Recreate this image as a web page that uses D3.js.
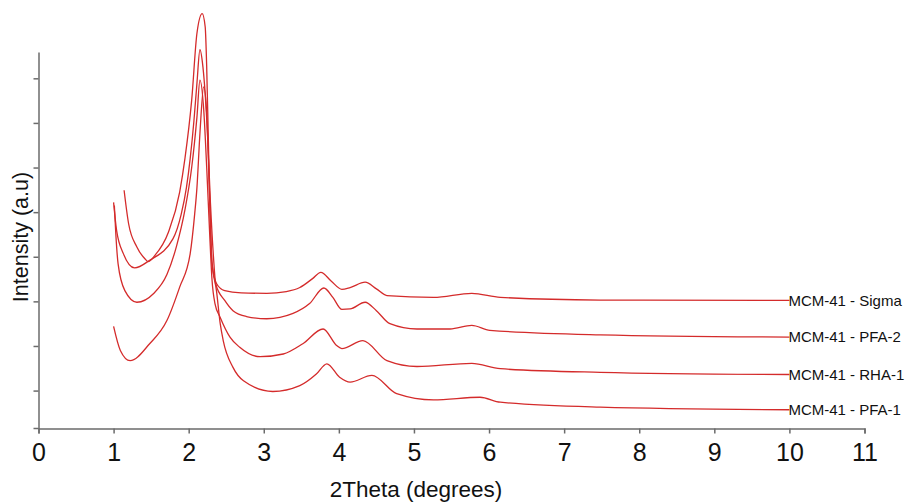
<!DOCTYPE html>
<html lang="en">
<head>
	<meta charset="utf-8">
	<title>XRD patterns MCM-41</title>
	<script src="https://d3js.org/d3.v7.min.js" charset="utf-8"></script>
	<style>
		body { margin: 0; background: #fff; }
		text { font-family: "Liberation Sans", Arial, sans-serif; }
	</style>
</head>
<body>
	<script>
        // Data: 2theta (degrees) and intensity (a.u)
        var seriesNames = ["MCM-41 - Sigma", "MCM-41 - PFA-2", "MCM-41 - RHA-1", "MCM-41 - PFA-1"];

        var sigma = [
            [1.14, 4.49], [1.20, 3.74], [1.31, 3.22], [1.42, 2.95], [1.46, 2.89], [1.55, 3.03],
            [1.73, 3.55], [1.88, 4.45], [1.95, 5.20], [2.04, 6.51], [2.11, 8.01],
            [2.18, 8.45], [2.22, 8.15], [2.24, 7.25], [2.26, 5.77], [2.28, 4.26], [2.31, 2.85],
            [2.37, 2.40], [2.48, 2.24], [2.70, 2.19], [3.04, 2.18], [3.30, 2.22], [3.48, 2.31],
            [3.65, 2.51], [3.76, 2.65], [3.90, 2.45], [4.04, 2.27], [4.15, 2.31], [4.35, 2.43],
            [4.50, 2.28], [4.64, 2.13], [5.26, 2.09], [5.77, 2.18], [6.15, 2.09], [7.48, 2.03],
            [10.0, 2.02]
        ];
        var pfa2 = [
            [1.00, 4.22], [1.04, 3.59], [1.13, 3.07], [1.28, 2.75], [1.48, 2.92], [1.79, 3.40],
            [1.90, 3.95], [1.97, 4.55], [2.02, 5.20], [2.07, 6.05], [2.11, 6.89], [2.15, 7.64], [2.19, 7.25],
            [2.25, 5.77], [2.29, 4.20], [2.33, 3.00], [2.36, 2.39], [2.48, 2.02], [2.59, 1.79],
            [2.77, 1.66], [3.04, 1.61], [3.39, 1.73], [3.61, 1.95], [3.80, 2.30], [3.92, 2.09],
            [4.04, 1.82], [4.15, 1.83], [4.35, 1.98], [4.50, 1.79], [4.68, 1.50], [5.04, 1.38],
            [5.48, 1.38], [5.77, 1.46], [6.01, 1.35], [7.48, 1.25], [10.0, 1.20]
        ];
        var rha1 = [
            [1.01, 4.15], [1.03, 3.50], [1.06, 2.84], [1.15, 2.24], [1.31, 1.98], [1.53, 2.17],
            [1.71, 2.60], [1.84, 3.25], [1.95, 4.05], [2.04, 5.00], [2.11, 6.13], [2.15, 6.96],
            [2.20, 6.30], [2.24, 5.00], [2.28, 3.50], [2.31, 2.50], [2.35, 1.95], [2.42, 1.64],
            [2.55, 1.20], [2.68, 0.97], [2.95, 0.76], [3.26, 0.82], [3.52, 1.05], [3.79, 1.38],
            [3.97, 1.01], [4.04, 0.94], [4.32, 1.12], [4.64, 0.67], [5.04, 0.54], [5.77, 0.61],
            [6.15, 0.49], [7.48, 0.41], [10.0, 0.36]
        ];
        var pfa1 = [
            [1.00, 1.44], [1.09, 0.90], [1.22, 0.67], [1.48, 1.05], [1.71, 1.57], [1.88, 2.32],
            [2.02, 3.07], [2.08, 3.96], [2.11, 4.55], [2.15, 5.77], [2.20, 6.81], [2.24, 6.21],
            [2.28, 4.26], [2.31, 2.90], [2.37, 2.24], [2.42, 1.50], [2.46, 1.12], [2.59, 0.52],
            [2.73, 0.22], [3.12, -0.02], [3.48, 0.11], [3.70, 0.37], [3.84, 0.60], [4.01, 0.30],
            [4.15, 0.19], [4.44, 0.34], [4.77, -0.07], [5.26, -0.21], [5.88, -0.15], [6.15, -0.26],
            [7.48, -0.37], [10.0, -0.43]
        ];

        var xTicks = [0, 1, 2, 3, 4, 5, 6, 7, 8, 9, 10, 11];
        var yTicks = [0, 1, 2, 3, 4, 5, 6, 7];

        var width = 906;
        var height = 502;

        var svg = d3.select("body")
            .append("svg")
            .attr("width", width)
            .attr("height", height);

        var x = d3.scaleLinear().domain([0, 11]).range([38.5, 864.5]);
        var y = d3.scaleLinear().domain([-0.85, 7.59]).range([428.5, 52]);

        var axisColor = "#6b6b6b";

        // x axis
        var gx = svg.append("g")
            .attr("transform", "translate(0," + y.range()[0] + ")")
            .call(d3.axisBottom(x).tickValues(xTicks).tickSize(5).tickSizeOuter(5).tickPadding(10));
        gx.selectAll("path, line").attr("stroke", axisColor).attr("stroke-width", 1.5);
        gx.selectAll("text")
            .attr("fill", "#111")
            .style("font-size", "25px");

        // y axis, unlabeled ticks
        var gy = svg.append("g")
            .attr("transform", "translate(" + x(0) + ",0)")
            .call(d3.axisLeft(y).tickValues(yTicks).tickSize(5).tickSizeOuter(0).tickFormat(""));
        gy.selectAll("path, line").attr("stroke", axisColor).attr("stroke-width", 1.5);
        // small stub where the two axes meet
        gy.append("line")
            .attr("x1", -5).attr("x2", 0)
            .attr("y1", y.range()[0]).attr("y2", y.range()[0])
            .attr("stroke", axisColor).attr("stroke-width", 1.5);

        // axis titles
        svg.append("text")
            .attr("x", 416)
            .attr("y", 497)
            .attr("text-anchor", "middle")
            .style("font-size", "22.5px")
            .attr("fill", "#111")
            .text("2Theta (degrees)");

        svg.append("text")
            .attr("transform", "translate(28,237) rotate(-90)")
            .attr("text-anchor", "middle")
            .style("font-size", "21.5px")
            .attr("fill", "#111")
            .text("Intensity (a.u)");

        // patterns
        var line = d3.line()
            .x(function(d) { return x(d[0]); })
            .y(function(d) { return y(d[1]); })
            .curve(d3.curveMonotoneX);

        var allSeries = [sigma, pfa2, rha1, pfa1];

        svg.append("g").selectAll("path")
            .data(allSeries)
            .enter().append("path")
                .attr("d", line)
                .attr("fill", "none")
                .attr("stroke", "#d42b2b")
                .attr("stroke-width", 1.3);

        svg.append("g").selectAll("text")
            .data(allSeries)
            .enter().append("text")
                .attr("x", function(d) { return x(d[d.length - 1][0]) - 1; })
                .attr("y", function(d) { return y(d[d.length - 1][1]); })
                .attr("dy", "0.35em")
                .style("font-size", "15px")
                .attr("fill", "#111")
                .text(function(d, i) { return seriesNames[i]; });
	</script>
</body>
</html>
